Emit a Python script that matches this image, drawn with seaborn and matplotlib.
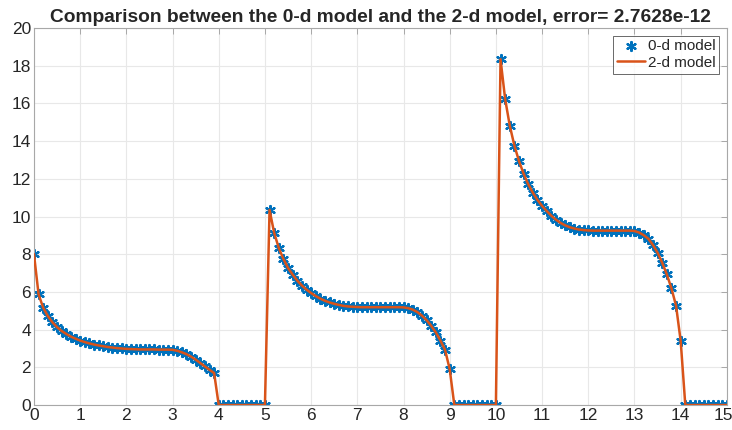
import numpy as np
import pandas as pd
import matplotlib
matplotlib.use("Agg")
import matplotlib.pyplot as plt
import matplotlib.transforms as mtransforms
import seaborn as sns

# sampled values, time step 0.1 from 0 to 15
pulse1 = [8.0, 5.87, 5.16, 4.72, 4.39, 4.13, 3.93, 3.77, 3.63, 3.52,
          3.42, 3.34, 3.27, 3.21, 3.16, 3.12, 3.08, 3.05, 3.02, 3.0,
          2.98, 2.97, 2.96, 2.95, 2.95, 2.95, 2.95, 2.94, 2.94, 2.94,
          2.93, 2.88, 2.80, 2.70, 2.57, 2.41, 2.23, 2.05, 1.87, 1.70]
gap1 = [0.0] * 11
pulse2 = [10.35, 9.13, 8.33, 7.75, 7.27, 6.92, 6.60, 6.34, 6.12, 5.94,
          5.78, 5.64, 5.53, 5.44, 5.37, 5.31, 5.26, 5.23, 5.21, 5.20,
          5.19, 5.19, 5.19, 5.19, 5.19, 5.19, 5.19, 5.19, 5.19, 5.18,
          5.14, 5.06, 4.93, 4.74, 4.50, 4.20, 3.85, 3.42, 2.92, 1.90]
gap2 = [0.0] * 10
pulse3 = [18.34, 16.23, 14.82, 13.76, 12.94, 12.27, 11.71, 11.26, 10.88, 10.56,
          10.29, 10.04, 9.83, 9.66, 9.53, 9.43, 9.36, 9.31, 9.28, 9.26,
          9.25, 9.25, 9.25, 9.25, 9.25, 9.25, 9.25, 9.25, 9.25, 9.23,
          9.15, 9.01, 8.82, 8.49, 8.08, 7.55, 6.93, 6.19, 5.27, 3.40]
gap3 = [0.0] * 10

err = "2.7628e-12"

vals = pulse1 + gap1 + pulse2 + gap2 + pulse3 + gap3
t = np.round(np.linspace(0, 15, len(vals)), 1)
df = pd.DataFrame({"t": t, "v": vals})

sns.set_theme(style="whitegrid")
plt.rcParams["font.family"] = ["Liberation Sans", "DejaVu Sans"]

fig = plt.figure(figsize=(7.32, 4.30), dpi=100)
ax = fig.add_axes([0.0464, 0.058, 0.9466, 0.877])

blue = "#0072BD"
orange = "#D95319"

sns.scatterplot(data=df, x="t", y="v", ax=ax, marker=(6, 2, 0), s=42,
                color=blue, linewidth=1.6, label="0-d model", zorder=2)
sns.lineplot(data=df, x="t", y="v", ax=ax, color=orange, linewidth=1.8,
             label="2-d model", zorder=3)

ax.set_xlim(0, 15)
ax.set_ylim(0, 20)
ax.set_xticks(range(0, 16))
ax.set_yticks(range(0, 21, 2))
ax.set_xlabel("")
ax.set_ylabel("")
ax.grid(True, color="#e8e8e8", linewidth=0.8)
for sp in ax.spines.values():
    sp.set_visible(True)
    sp.set_color("#a8a8a8")
    sp.set_linewidth(0.8)
ax.tick_params(direction="in", length=4, width=0.7, color="#a8a8a8",
               top=True, right=True, labelsize=12.5, labelcolor="#262626", pad=2)
ax.set_title("Comparison between the 0-d model and the 2-d model, error= " + err,
             fontsize=13.8, fontweight="bold", pad=4)

# nudge the last x label so it stays inside the picture
lastlab = ax.get_xticklabels()[-1]
lastlab.set_transform(lastlab.get_transform() +
                      mtransforms.ScaledTranslation(-4 / 100, 0, fig.dpi_scale_trans))

h, l = ax.get_legend_handles_labels()
leg = ax.legend(h, l, loc="upper right", fontsize=11, frameon=True,
                fancybox=False, borderpad=0.25, handlelength=1.8,
                handletextpad=0.2, labelspacing=0.15, borderaxespad=0.5)
leg.get_frame().set_edgecolor("#262626")
leg.get_frame().set_linewidth(0.6)

fig.savefig("out.png", dpi=100)
